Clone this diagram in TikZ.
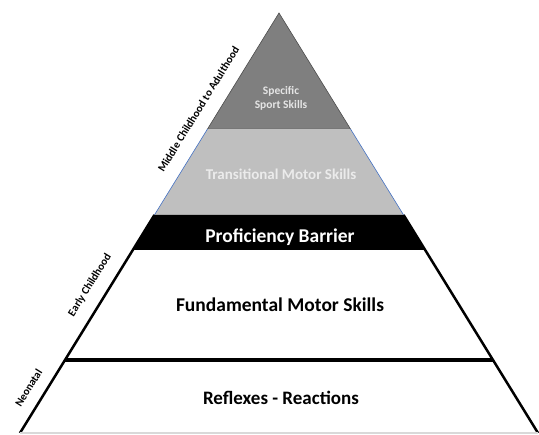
\documentclass[tikz,border=0pt]{standalone}
\usepackage{fontspec}
\setmainfont{Carlito}
\usetikzlibrary{calc}
\definecolor{topgray}{HTML}{7F7F7F}
\definecolor{midgray}{HTML}{BFBFBF}
\definecolor{edgeblue}{HTML}{4472C4}
\tikzset{
  layertext/.style={font=\bfseries\fontsize{#1}{14}\selectfont, align=center, inner sep=0},
  agetext/.style={font=\bfseries\fontsize{11}{11}\selectfont, rotate=58.3, inner sep=0},
}

\begin{document}
\begin{tikzpicture}[x=1pt, y=-1pt]
  \useasboundingbox (0, 0) rectangle (539, 435);
  % pyramid corners
  \coordinate (apex) at (279, 13);
  \coordinate (l1) at (207.5, 129); \coordinate (r1) at (350.5, 129);
  \coordinate (l2) at (154.4, 215); \coordinate (r2) at (403.6, 215);
  \coordinate (l3) at (132.8, 250); \coordinate (r3) at (425.2, 250);
  \coordinate (l4) at (65, 360);    \coordinate (r4) at (493, 360);
  \coordinate (l5) at (20, 433);    \coordinate (r5) at (538, 433);

  % layers
  \fill[topgray, draw=black!70, line width=0.6] (apex) -- (r1) -- (l1) -- cycle;
  \fill[midgray] (l1) -- (r1) -- (r2) -- (l2) -- cycle;
  \draw[edgeblue, line width=0.6] (l1) -- (l2) (r1) -- (r2);
  \fill[black] (l2) -- (r2) -- (r3) -- (l3) -- cycle;
  \draw[line width=2.5] (l2) -- (l5) (r2) -- (r5);
  \draw[line width=4] (l4) -- (r4);
  \draw[black!15, line width=1.2] (l5) -- (r5);

  % layer labels
  \node[layertext=11.5, text=white!90!black] (sport) at (281, 98.5) {Specific\\Sport Skills};
  \node[layertext=15, text=white!92!black] (trans) at (281, 174) {Transitional Motor Skills};
  \node[layertext=19.5, text=white] (barrier) at (280, 237) {Proficiency Barrier};
  \node[layertext=19.5] (fund) at (280, 305) {Fundamental Motor Skills};
  \node[layertext=19] (reflex) at (281, 398) {Reflexes - Reactions};

  % age labels
  \node[agetext] (middle) at (198.5, 109) {Middle Childhood to Adulthood};
  \node[agetext] (early) at (90, 285) {Early Childhood};
  \node[agetext] (neo) at (28.5, 388) {Neonatal};
\end{tikzpicture}
\end{document}
